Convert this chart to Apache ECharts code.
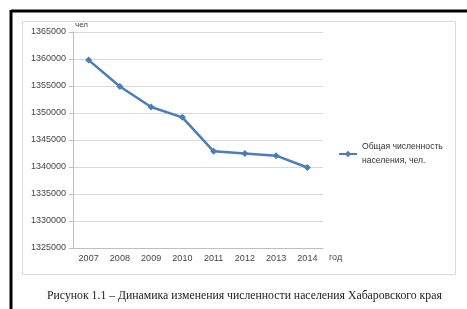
<!DOCTYPE html>
<html>
<head>
<meta charset="utf-8">
<script src="https://cdn.jsdelivr.net/npm/echarts@6/dist/echarts.min.js"></script>
<style>
  html, body { margin: 0; padding: 0; background: #fff; }
  #chart { width: 467px; height: 309px; }
</style>
</head>
<body>
<div id="chart"></div>
<script>
const years = ['2007', '2008', '2009', '2010', '2011', '2012', '2013', '2014']
const population = [1359800, 1354900, 1351100, 1349200, 1342900, 1342500, 1342100, 1339900]
const seriesName = 'Общая численность населения, чел.'
const caption = 'Рисунок 1.1 – Динамика изменения численности населения Хабаровского края'

const chart = echarts.init(document.getElementById('chart'))
chart.setOption({
  animation: false,
  textStyle: { fontFamily: 'Liberation Sans' },
  graphic: [
    // page frame lines
    { type: 'line', shape: { x1: 11, y1: 11, x2: 467, y2: 11 }, style: { stroke: '#000', lineWidth: 3 } },
    { type: 'line', shape: { x1: 11, y1: 10, x2: 11, y2: 309 }, style: { stroke: '#000', lineWidth: 3 } },
    // chart area border
    { type: 'rect', shape: { x: 22.5, y: 21.5, width: 433, height: 253 }, style: { fill: 'none', stroke: '#d9d9d9', lineWidth: 1 } },
    {
      type: 'text', left: 47, top: 290,
      style: { text: caption, font: '11.75px "Liberation Serif"', fill: '#222' }
    }
  ],
  grid: { left: 73, right: 144, top: 32, bottom: 61 },
  legend: {
    left: 333,
    top: 135,
    itemWidth: 18,
    itemHeight: 8,
    itemGap: 4,
    formatter: name => name.replace('численность ', 'численность\n'),
    textStyle: { fontSize: 8.6, color: '#333', lineHeight: 14 }
  },
  xAxis: {
    type: 'category',
    data: years,
    name: 'год',
    nameGap: 6,
    nameTextStyle: { fontSize: 9, color: '#444', verticalAlign: 'top', padding: [5, 0, 0, 0] },
    axisLine: { lineStyle: { color: '#bfbfbf' } },
    axisTick: { lineStyle: { color: '#bfbfbf' }, length: 4 },
    axisLabel: { fontSize: 9, color: '#444', margin: 6 }
  },
  yAxis: {
    type: 'value',
    min: 1325000,
    max: 1365000,
    interval: 5000,
    name: 'чел',
    nameGap: 3,
    nameTextStyle: { fontSize: 8, color: '#444', align: 'left', padding: [0, 0, 0, 2] },
    axisLine: { show: true, lineStyle: { color: '#bfbfbf' } },
    axisTick: { show: true, lineStyle: { color: '#bfbfbf' }, length: 4 },
    axisLabel: { fontSize: 9, color: '#444', margin: 7, formatter: v => String(v) },
    splitLine: { lineStyle: { color: '#d9d9d9' } }
  },
  series: [{
    name: seriesName,
    type: 'line',
    data: population,
    symbol: 'diamond',
    symbolSize: 7,
    color: '#4a7ebb',
    lineStyle: { width: 2.5, color: '#4a7ebb' },
    itemStyle: { color: '#4a7ebb' }
  }]
})
</script>
</body>
</html>
